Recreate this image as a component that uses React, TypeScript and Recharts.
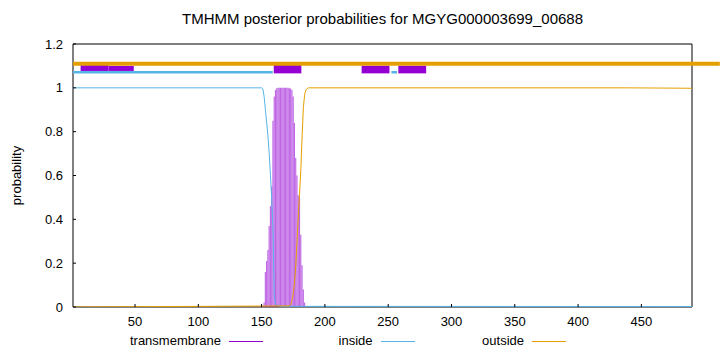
import React from 'react';
import {
  ComposedChart, Bar, Line, XAxis, YAxis, ReferenceArea, ReferenceLine, Legend,
} from 'recharts';

// ---- data ----
const TITLE = 'TMHMM posterior probabilities for MGYG000003699_00688';
const Y_LABEL = 'probability';
const X_DOMAIN = [1, 490];
const Y_DOMAIN = [0, 1.2];
const X_TICKS = [50, 100, 150, 200, 250, 300, 350, 400, 450];
const Y_TICKS = [0, 0.2, 0.4, 0.6, 0.8, 1, 1.2];

// transmembrane posterior (impulses)
const TM_RESIDUES = [152, 153, 154, 155, 156, 157, 158, 159, 160, 161, 162, 163, 164, 165, 166, 167, 168, 169, 170, 171, 172, 173, 174, 175, 176, 177, 178, 179, 180, 181, 182, 183, 184];
const TM_VALUES = [0.02, 0.16, 0.21, 0.26, 0.37, 0.46, 0.55, 0.85, 0.96, 0.99, 0.998, 1, 1, 1, 1, 1, 1, 1, 1, 1, 0.998, 0.997, 0.99, 0.96, 0.84, 0.68, 0.6, 0.51, 0.5, 0.33, 0.19, 0.08, 0.02];

// inside posterior
const INSIDE_X = [1, 150, 151, 152, 153, 154, 155, 156, 157, 158, 159, 160, 161, 162, 165, 490];
const INSIDE_Y = [1, 1, 0.995, 0.96, 0.9, 0.84, 0.78, 0.7, 0.6, 0.49, 0.36, 0.05, 0.015, 0.008, 0.003, 0.002];

// outside posterior
const OUTSIDE_X = [1, 172, 173, 174, 175, 176, 177, 178, 179, 180, 181, 182, 183, 184, 185, 186, 187, 440, 490];
const OUTSIDE_Y = [0, 0.005, 0.012, 0.03, 0.06, 0.11, 0.19, 0.3, 0.42, 0.52, 0.63, 0.78, 0.91, 0.97, 0.99, 0.997, 1, 1, 0.998];

// top annotation tracks
const OUTSIDE_TRACK = [{ x1: 1, x2: 512, y: 1.11 }];
const INSIDE_TRACK = [{ x1: 1, x2: 158.8, y: 1.071 }, { x1: 252.5, x2: 257, y: 1.071 }];
const TM_BOXES = [
  { x1: 7, x2: 29, y1: 1.077, y2: 1.104 },
  { x1: 29, x2: 49, y1: 1.077, y2: 1.1 },
  { x1: 159.6, x2: 181.4, y1: 1.066, y2: 1.1145 },
  { x1: 229, x2: 251, y1: 1.066, y2: 1.101 },
  { x1: 258, x2: 280, y1: 1.066, y2: 1.101 },
];

const LEGEND_LABELS = ['transmembrane', 'inside', 'outside'];
const LEGEND_COLORS = ['#9400D3', '#56B4E9', '#E69F00'];

// ---- derived tables ----
const tmData = TM_RESIDUES.map((x, i) => ({ x, tm: TM_VALUES[i] }));
const insideData = INSIDE_X.map((x, i) => ({ x, v: INSIDE_Y[i] }));
const outsideData = OUTSIDE_X.map((x, i) => ({ x, v: OUTSIDE_Y[i] }));

const FONT = '"Liberation Sans", Arial, Helvetica, sans-serif';

const LEGEND_POS = [
  { textRight: 221, lineLeft: 229 },
  { textRight: 372.5, lineLeft: 381 },
  { textRight: 524, lineLeft: 532 },
];

function renderLegend() {
  return (
    <div style={{ position: 'relative', width: 720, height: 16, fontFamily: FONT, fontSize: 13, color: '#000' }}>
      {LEGEND_LABELS.map((label, i) => (
        <React.Fragment key={label}>
          <div style={{ position: 'absolute', right: 720 - LEGEND_POS[i].textRight, top: 0, lineHeight: '16px', whiteSpace: 'nowrap' }}>{label}</div>
          <div style={{ position: 'absolute', left: LEGEND_POS[i].lineLeft, top: 8, width: 34, height: 1, background: LEGEND_COLORS[i] }} />
        </React.Fragment>
      ))}
    </div>
  );
}

function YLabel(props: any) {
  const vb = props.viewBox || { x: 0, y: 0, width: 73, height: 263 };
  const cx = 16;
  const cy = vb.y + vb.height / 2;
  return (
    <text x={cx} y={cy} transform={`rotate(-90 ${cx} ${cy})`} textAnchor="middle" dominantBaseline="central" fontSize={13} fontFamily={FONT} fill="#000">
      {Y_LABEL}
    </text>
  );
}

export default function App() {
  return (
    <div style={{ position: 'absolute', left: 0, top: 0, width: 720, height: 352, background: '#fff', fontFamily: FONT }}>
      <div style={{ position: 'absolute', left: 73, width: 619, top: 10, textAlign: 'center', fontSize: 15, lineHeight: '18px', color: '#000', whiteSpace: 'nowrap' }}>
        {TITLE}
      </div>
      <ComposedChart width={720} height={352} data={tmData} margin={{ top: 43, right: 0, bottom: 0, left: 0 }} barGap={0} barCategoryGap={0}>
        <XAxis dataKey="x" type="number" domain={X_DOMAIN} ticks={X_TICKS} height={45} allowDataOverflow
          axisLine={false} tickSize={-3} tickMargin={13} tickLine={{ stroke: '#000' }}
          tick={{ fill: '#000', fontSize: 13, fontFamily: FONT }} />
        <XAxis xAxisId="top" orientation="top" dataKey="x" type="number" domain={X_DOMAIN} ticks={X_TICKS} height={1} allowDataOverflow
          axisLine={false} tickSize={-3} tick={false} tickLine={{ stroke: '#000' }} />
        <YAxis type="number" domain={Y_DOMAIN} ticks={Y_TICKS} width={73} allowDataOverflow
          axisLine={false} tickSize={-3} tickMargin={13} tickLine={{ stroke: '#000' }}
          tick={{ fill: '#000', fontSize: 13, fontFamily: FONT }}
          label={<YLabel />} />
        <YAxis yAxisId="right" orientation="right" type="number" domain={Y_DOMAIN} ticks={Y_TICKS} width={28} allowDataOverflow
          axisLine={false} tickSize={-3} tick={false} tickLine={{ stroke: '#000' }} />

        <Bar dataKey="tm" barSize={1.27} fill="#9400D3" fillOpacity={0.6} isAnimationActive={false} />
        <Line data={insideData} dataKey="v" type="linear" stroke="#56B4E9" strokeWidth={1} dot={false} isAnimationActive={false} />
        <Line data={outsideData} dataKey="v" type="linear" stroke="#E69F00" strokeWidth={1} dot={false} isAnimationActive={false} />

        <ReferenceArea x1={X_DOMAIN[0]} x2={X_DOMAIN[1]} y1={Y_DOMAIN[0]} y2={Y_DOMAIN[1]} fill="none" fillOpacity={0} stroke="#000" strokeWidth={1} ifOverflow="visible" />
        {OUTSIDE_TRACK.map((s, i) => (
          <ReferenceLine key={'o' + i} segment={[{ x: s.x1, y: s.y }, { x: s.x2, y: s.y }]} stroke="#E69F00" strokeWidth={4} ifOverflow="visible" />
        ))}
        {INSIDE_TRACK.map((s, i) => (
          <ReferenceLine key={'i' + i} segment={[{ x: s.x1, y: s.y }, { x: s.x2, y: s.y }]} stroke="#56B4E9" strokeWidth={2.5} ifOverflow="visible" />
        ))}
        {TM_BOXES.map((b, i) => (
          <ReferenceArea key={'b' + i} x1={b.x1} x2={b.x2} y1={b.y1} y2={b.y2} fill="#9400D3" fillOpacity={1} stroke="none" ifOverflow="visible" />
        ))}
        <Legend content={renderLegend} layout="horizontal" verticalAlign="middle" align="center" wrapperStyle={{ left: 0, top: 333, width: 720, height: 16 }} />
      </ComposedChart>
    </div>
  );
}
